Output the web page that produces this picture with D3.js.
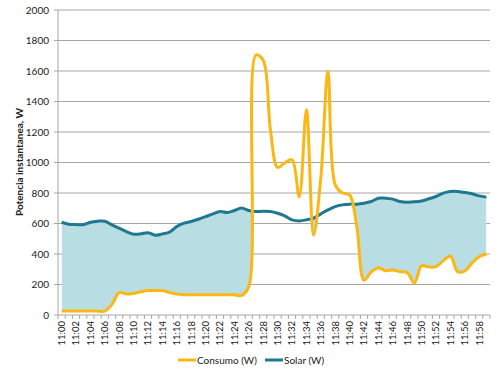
<html>
<head>
  <meta charset="utf-8">
  <script src="https://cdnjs.cloudflare.com/ajax/libs/d3/7.8.5/d3.min.js"></script>
  <style>
    body { margin: 0; background: #fff; }
    text { font-family: Lato, "Open Sans", sans-serif; fill: #222; }
  </style>
</head>
<body>
  <svg id="chart" width="500" height="375"></svg>
  <script>
    // minutes 11:00 .. 11:59
    var minutes = d3.range(0, 60).map(m => "11:" + (m < 10 ? "0" + m : m));
    var yTicks = [0, 200, 400, 600, 800, 1000, 1200, 1400, 1600, 1800, 2000];

    var consumo = [
      26, 26, 26, 26, 26, 26, 26, 70, 147, 138,
      142, 152, 160, 160, 160, 148, 137, 133, 133, 133,
      133, 133, 133, 133, 133, 128, 186, 1705, 1670, 1215,
      968, 998, 1018, 775, 1346, 525, 900, 1597, 853, 800,
      788, 578, 228, 282, 308, 291, 295, 284, 278, 210,
      322, 315, 317, 355, 387, 284, 289, 340, 383, 400
    ];
    var solar = [
      608, 595, 593, 592, 608, 615, 615, 591, 569, 547,
      530, 532, 540, 523, 532, 543, 580, 602, 613, 628,
      645, 663, 678, 672, 685, 702, 685, 678, 680, 678,
      667, 650, 624, 617, 624, 635, 663, 689, 711, 722,
      727, 727, 733, 744, 766, 766, 760, 744, 740, 742,
      748, 762, 777, 799, 810, 810, 803, 795, 781, 773
    ];

    var cConsumo = "#fbb713", cSolar = "#1d7890", cFill = "#b8dde3";

    var svg = d3.select("#chart");
    var x = d3.scaleBand().domain(minutes).range([58, 490]);
    var y = d3.scaleLinear().domain([0, 2000]).range([315, 10]);
    var cx = d => x(d) + x.bandwidth() / 2;

    // grid
    svg.append("g")
      .selectAll("line")
      .data(yTicks.slice(1))
      .enter()
      .append("line")
      .attr("x1", 58).attr("x2", 490)
      .attr("y1", d => y(d)).attr("y2", d => y(d))
      .attr("stroke", "#a6a6a6").attr("stroke-width", 1);

    var pts = minutes.map((m, i) => ({m: m, c: consumo[i], s: solar[i]}));
    var curve = d3.curveCatmullRom.alpha(0.5);

    // fill between solar and consumo where solar is above
    svg.append("clipPath").attr("id", "aboveC")
      .append("path")
      .attr("d", d3.area().x(d => cx(d.m)).y0(d => y(d.c)).y1(0).curve(curve)(pts));
    svg.append("path")
      .attr("clip-path", "url(#aboveC)")
      .attr("fill", cFill)
      .attr("d", d3.area().x(d => cx(d.m)).y0(315).y1(d => y(d.s)).curve(curve)(pts));

    // axes
    svg.append("line").attr("x1", 58).attr("x2", 58).attr("y1", 10).attr("y2", 315)
      .attr("stroke", "#a6a6a6");
    svg.append("line").attr("x1", 58).attr("x2", 490).attr("y1", 315).attr("y2", 315)
      .attr("stroke", "#a6a6a6");
    svg.append("g")
      .selectAll("line")
      .data(yTicks)
      .enter()
      .append("line")
      .attr("x1", 54).attr("x2", 58)
      .attr("y1", d => y(d)).attr("y2", d => y(d))
      .attr("stroke", "#a6a6a6");
    svg.append("g")
      .selectAll("line")
      .data(minutes.concat(["end"]))
      .enter()
      .append("line")
      .attr("x1", (d, i) => 58 + i * x.bandwidth())
      .attr("x2", (d, i) => 58 + i * x.bandwidth())
      .attr("y1", 315).attr("y2", 319)
      .attr("stroke", "#a6a6a6");

    svg.append("g")
      .selectAll("text")
      .data(yTicks)
      .enter()
      .append("text")
      .attr("x", 49).attr("y", d => y(d) + 3.5)
      .attr("text-anchor", "end")
      .style("font-size", "10px")
      .text(d => d);

    svg.append("g")
      .selectAll("text")
      .data(minutes.filter((m, i) => i % 2 == 0))
      .enter()
      .append("text")
      .attr("transform", d => "translate(" + (cx(d) + 3.3) + ",321) rotate(-90)")
      .attr("text-anchor", "end")
      .style("font-size", "9.5px")
      .text(d => d);

    svg.append("text")
      .attr("transform", "translate(23,162) rotate(-90)")
      .attr("text-anchor", "middle")
      .style("font-size", "10px").style("font-weight", "bold")
      .text("Potencia instantanea, W");

    // lines
    svg.append("path")
      .attr("fill", "none").attr("stroke", cSolar).attr("stroke-width", 3)
      .attr("d", d3.line().x(d => cx(d.m)).y(d => y(d.s)).curve(curve)(pts));
    svg.append("path")
      .attr("fill", "none").attr("stroke", cConsumo).attr("stroke-width", 3)
      .attr("d", d3.line().x(d => cx(d.m)).y(d => y(d.c)).curve(curve)(pts));

    // legend
    var legend = [
      {name: "Consumo (W)", color: cConsumo, x: 178},
      {name: "Solar (W)", color: cSolar, x: 265}
    ];
    var lg = svg.append("g")
      .selectAll("g")
      .data(legend)
      .enter()
      .append("g")
      .attr("transform", d => "translate(" + d.x + ",360)");
    lg.append("line").attr("x1", 0).attr("x2", 18).attr("y1", 0).attr("y2", 0)
      .attr("stroke", d => d.color).attr("stroke-width", 3);
    lg.append("text").attr("x", 19).attr("y", 3.5)
      .style("font-size", "10px")
      .text(d => d.name);
  </script>
</body>
</html>
